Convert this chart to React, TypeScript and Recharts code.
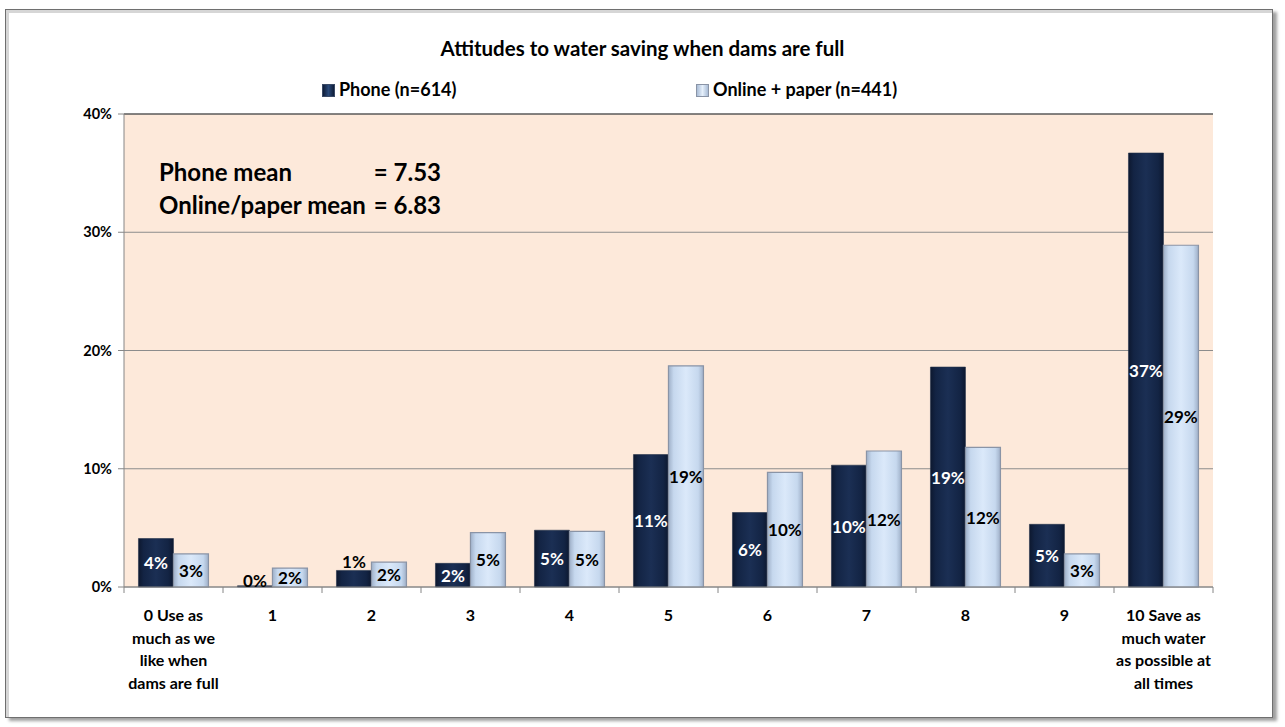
import { BarChart, Bar, XAxis, YAxis, CartesianGrid, LabelList, ReferenceLine } from "recharts";

const categories = [
  "0 Use as\nmuch as we\nlike when\ndams are full",
  "1",
  "2",
  "3",
  "4",
  "5",
  "6",
  "7",
  "8",
  "9",
  "10 Save as\nmuch water\nas possible at\nall times",
];
const phoneValues = [4.1, 0.1, 1.4, 2.0, 4.8, 11.2, 6.3, 10.3, 18.6, 5.3, 36.7];
const onlineValues = [2.8, 1.6, 2.1, 4.6, 4.7, 18.7, 9.7, 11.5, 11.8, 2.8, 28.9];
const seriesNames = ["Phone (n=614)", "Online + paper (n=441)"];
const yTicks = [0, 10, 20, 30, 40];
const meanLines = [
  ["Phone mean", "= 7.53"],
  ["Online/paper mean", "= 6.83"],
];
const title = "Attitudes to water saving when dams are full";

const data = categories.map((c, i) => ({
  category: c,
  phone: phoneValues[i],
  online: onlineValues[i],
}));

const FONT = "Lato, 'Open Sans', sans-serif";
const W = 1285;
const H = 727;
const MARGIN = { top: 114, right: 72, bottom: 0, left: 0 };
const Y_W = 124;
const X_H = 140;
const BAND = (W - MARGIN.left - MARGIN.right - Y_W) / categories.length;

function CategoryTick({ x, y, payload, index }: any) {
  const lines = String(payload.value).split("\n");
  const half = BAND / 2;
  return (
    <g>
      <line x1={x - half} x2={x - half} y1={y} y2={y + 6} stroke="#868686" />
      {index === categories.length - 1 && (
        <line x1={x + half} x2={x + half} y1={y} y2={y + 6} stroke="#868686" />
      )}
      <text x={x} y={y} textAnchor="middle" fontFamily={FONT} fontWeight={700} fontSize={16} fill="#000">
        {lines.map((l, i) => (
          <tspan key={i} x={x} dy={i === 0 ? 34 : 22.6}>
            {l}
          </tspan>
        ))}
      </text>
    </g>
  );
}

// labels sit in the middle of the bar; too-short bars get a black label above
function makeLabel(color: string) {
  return function BarLabel({ x, y, width, height, value }: any) {
    const small = height < 18;
    const cx = x + width / 2;
    const cy = small ? y - (height < 3 ? 5 : 9) : y + height / 2;
    return (
      <text
        x={cx}
        y={cy}
        textAnchor="middle"
        dominantBaseline="central"
        fontFamily={FONT}
        fontWeight={700}
        fontSize={17}
        fill={small ? "#000" : color}
      >
        {Math.round(value)}%
      </text>
    );
  };
}

function LegendMarker({ dark }: { dark: boolean }) {
  return (
    <span
      style={{
        display: "inline-block",
        width: 13,
        height: 13,
        marginRight: 4,
        verticalAlign: "-1px",
        background: dark
          ? "linear-gradient(90deg,#0f1d38,#2a4a7a 50%,#0f1d38)"
          : "linear-gradient(90deg,#a9bcd6,#e6f0fb 50%,#a9bcd6)",
        border: dark ? "1px solid #3a4a66" : "1px solid #8a94a6",
        boxSizing: "border-box",
      }}
    />
  );
}

export default function App() {
  return (
    <div style={{ position: "absolute", left: 0, top: 0, width: W, height: H, background: "#fff", fontFamily: FONT }}>
      <div
        style={{
          position: "absolute",
          left: 5,
          top: 9,
          width: 1268,
          height: 709,
          border: "1px solid #6f6f6f",
          boxShadow: "inset 3px 3px 0 #d6d6d6, 4px 3px 3px #a0a0a0",
          boxSizing: "border-box",
        }}
      />
      <BarChart
        width={W}
        height={H}
        data={data}
        margin={MARGIN}
        barCategoryGap="14.6%"
        barGap={0}
        style={{ position: "absolute", left: 0, top: 0 }}
      >
        <defs>
          <linearGradient id="gPhone" x1="0" y1="0" x2="1" y2="0">
            <stop offset="0%" stopColor="#0d182f" />
            <stop offset="15%" stopColor="#132444" />
            <stop offset="50%" stopColor="#1b2f54" />
            <stop offset="85%" stopColor="#132444" />
            <stop offset="100%" stopColor="#0d182f" />
          </linearGradient>
          <linearGradient id="gOnline" x1="0" y1="0" x2="1" y2="0">
            <stop offset="0%" stopColor="#9fb0c8" />
            <stop offset="15%" stopColor="#c6d8ee" />
            <stop offset="50%" stopColor="#dbe9fa" />
            <stop offset="85%" stopColor="#c6d8ee" />
            <stop offset="100%" stopColor="#9fb0c8" />
          </linearGradient>
        </defs>
        <CartesianGrid vertical={false} stroke="#8c8c8c" fill="#FDE9DA" />
        <XAxis
          dataKey="category"
          height={X_H}
          interval={0}
          tickLine={false}
          tickSize={0}
          tickMargin={0}
          axisLine={{ stroke: "#868686" }}
          tick={<CategoryTick />}
        />
        <YAxis
          width={Y_W}
          domain={[0, 40]}
          ticks={yTicks}
          tickFormatter={(v) => `${v}%`}
          tickSize={6}
          tickMargin={6}
          axisLine={{ stroke: "#868686" }}
          tickLine={{ stroke: "#868686" }}
          tick={{ fontFamily: FONT, fontWeight: 700, fontSize: 14.5, fill: "#000" }}
        />
        <YAxis
          yAxisId="right"
          orientation="right"
          width={0}
          domain={[0, 40]}
          tick={false}
          tickLine={false}
          axisLine={{ stroke: "#404040" }}
        />
        <ReferenceLine y={40} stroke="#404040" />
        <Bar dataKey="phone" name={seriesNames[0]} fill="url(#gPhone)" stroke="#24324a" strokeWidth={0.6} isAnimationActive={false}>
          <LabelList dataKey="phone" content={makeLabel("#fff")} />
        </Bar>
        <Bar dataKey="online" name={seriesNames[1]} fill="url(#gOnline)" stroke="#8a94a6" strokeWidth={1.2} isAnimationActive={false}>
          <LabelList dataKey="online" content={makeLabel("#000")} />
        </Bar>
      </BarChart>
      <div
        style={{
          position: "absolute",
          left: 0,
          top: 35,
          width: W,
          textAlign: "center",
          fontSize: 20.5,
          lineHeight: "26px",
          fontWeight: 700,
        }}
      >
        {title}
      </div>
      <div style={{ position: "absolute", left: 322, top: 79, fontSize: 18, lineHeight: "20px", fontWeight: 700 }}>
        <LegendMarker dark />
        {seriesNames[0]}
      </div>
      <div style={{ position: "absolute", left: 696, top: 79, fontSize: 18, lineHeight: "20px", fontWeight: 700 }}>
        <LegendMarker dark={false} />
        {seriesNames[1]}
      </div>
      <div
        style={{
          position: "absolute",
          left: 159,
          top: 155,
          display: "grid",
          gridTemplateColumns: "auto auto",
          columnGap: 8,
          fontSize: 24,
          lineHeight: "33px",
          fontWeight: 700,
        }}
      >
        {meanLines.map((row) => row.map((cell, j) => <div key={row[0] + j}>{cell}</div>))}
      </div>
    </div>
  );
}
